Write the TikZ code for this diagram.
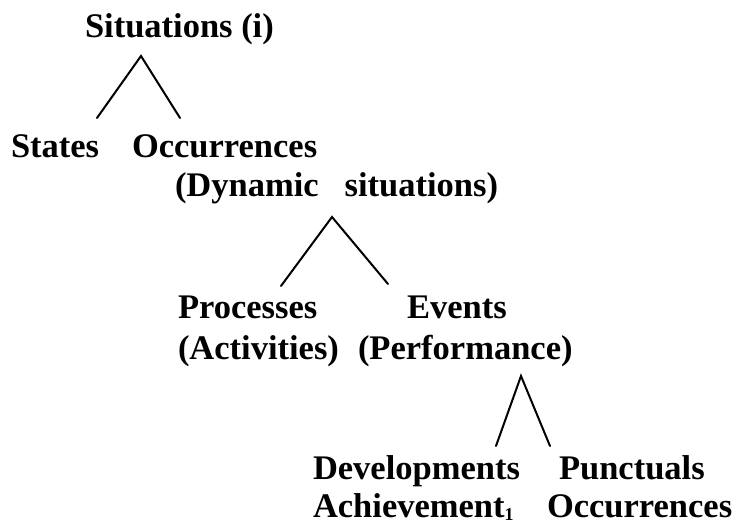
\documentclass[tikz,border=0pt]{standalone}
\usepackage{fontspec}
\setmainfont{Liberation Serif}
\begin{document}
\begin{tikzpicture}[x=1pt,y=-1pt,
  lbl/.style={anchor=base west,inner sep=0pt,outer sep=0pt,font=\fontsize{34.5}{40}\selectfont\bfseries},
  branch/.style={line width=2pt,line cap=round}]
\useasboundingbox[fill=white] (0,0) rectangle (734,526);
% texts
\node[lbl] (sit) at (85,38) {Situations (i)};
\node[lbl] (sta) at (11,158) {States};
\node[lbl] (occ) at (132,158) {Occurrences};
\node[lbl] (dyn) at (175,197) {(Dynamic\hspace{26pt}situations)};
\node[lbl] (pro) at (178,319) {Processes};
\node[lbl] (eve) at (407,319) {Events};
\node[lbl] (act) at (178,360) {(Activities)};
\node[lbl] (per) at (358,360) {(Performance)};
\node[lbl] (dev) at (313,479) {Developments};
\node[lbl] (pun) at (559,479) {Punctuals};
\node[lbl] (ach) at (313,518) {Achievement\raisebox{-0.15ex}{\fontsize{18}{18}\selectfont 1}};
\node[lbl] (occb) at (547,518) {Occurrences};
% branch points
\coordinate (t1) at (141,56);
\coordinate (t1l) at (97,118);
\coordinate (t1r) at (180,118);
\coordinate (t2) at (332,217);
\coordinate (t2l) at (281,286);
\coordinate (t2r) at (388,284);
\coordinate (t3) at (521,376);
\coordinate (t3l) at (496,446);
\coordinate (t3r) at (550,446);
\draw[branch] (t1l) -- (t1) -- (t1r);
\draw[branch] (t2l) -- (t2) -- (t2r);
\draw[branch] (t3l) -- (t3) -- (t3r);
\end{tikzpicture}
\end{document}
